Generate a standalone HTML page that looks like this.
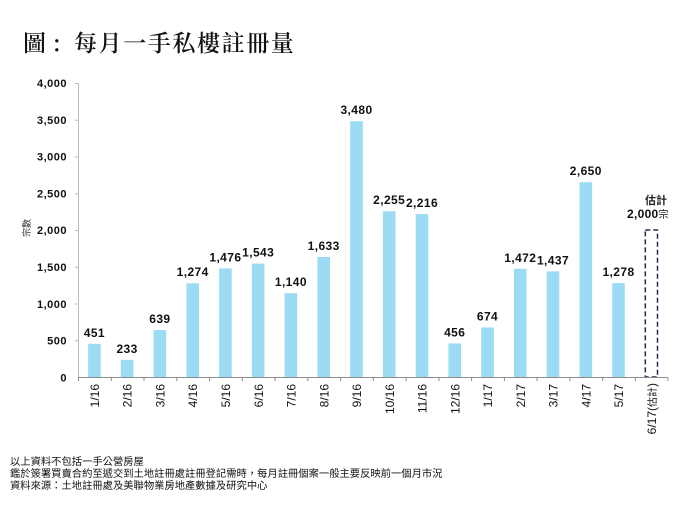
<!DOCTYPE html>
<html><head><meta charset="utf-8"><style>
html,body{margin:0;padding:0;background:#fff;}
body{width:700px;height:525px;overflow:hidden;position:relative;}
svg{position:absolute;left:0;top:0;}
</style></head><body>
<svg width="700" height="525" viewBox="0 0 700 525" xmlns="http://www.w3.org/2000/svg">
<g font-family="'Noto Serif CJK SC','Noto Serif CJK TC',serif" font-size="23" font-weight="600" fill="#111">
<text x="23" y="51">圖</text>
<text x="53" y="51">:</text>
<text x="74" y="51" letter-spacing="1.6">每月一手私樓註冊量</text>
</g>

<!-- y axis -->
<line x1="78.5" y1="83" x2="78.5" y2="377.5" stroke="#bdbdbd" stroke-width="1"/>
<g stroke="#bdbdbd" stroke-width="1">
<line x1="75" y1="83.5" x2="78.5" y2="83.5"/>
<line x1="75" y1="120.25" x2="78.5" y2="120.25"/>
<line x1="75" y1="157" x2="78.5" y2="157"/>
<line x1="75" y1="193.75" x2="78.5" y2="193.75"/>
<line x1="75" y1="230.5" x2="78.5" y2="230.5"/>
<line x1="75" y1="267.25" x2="78.5" y2="267.25"/>
<line x1="75" y1="304" x2="78.5" y2="304"/>
<line x1="75" y1="340.75" x2="78.5" y2="340.75"/>
</g>
<g font-family="'Liberation Sans',sans-serif" font-size="11" font-weight="700" fill="#111" text-anchor="end" letter-spacing="0.5">
<text x="67" y="87">4,000</text>
<text x="67" y="124">3,500</text>
<text x="67" y="160.5">3,000</text>
<text x="67" y="197.5">2,500</text>
<text x="67" y="234">2,000</text>
<text x="67" y="271">1,500</text>
<text x="67" y="308">1,000</text>
<text x="67" y="344.5">500</text>
<text x="67" y="381.5">0</text>
</g>
<text transform="translate(30,228) rotate(-90)" text-anchor="middle" font-family="'Liberation Sans','Noto Sans CJK TC',sans-serif" font-size="9" fill="#333">宗數</text>

<!-- bars -->
<g fill="#9bdbf4">
<rect x="88.1" y="343.85" width="12.6" height="33.15"/>
<rect x="120.8" y="359.87" width="12.6" height="17.13"/>
<rect x="153.6" y="330.03" width="12.6" height="46.97"/>
<rect x="186.4" y="283.36" width="12.6" height="93.64"/>
<rect x="219.1" y="268.51" width="12.6" height="108.49"/>
<rect x="251.9" y="263.59" width="12.6" height="113.41"/>
<rect x="284.6" y="293.21" width="12.6" height="83.79"/>
<rect x="317.4" y="256.97" width="12.6" height="120.03"/>
<rect x="350.2" y="121.22" width="12.6" height="255.78"/>
<rect x="382.9" y="211.26" width="12.6" height="165.74"/>
<rect x="415.7" y="214.12" width="12.6" height="162.88"/>
<rect x="448.4" y="343.48" width="12.6" height="33.52"/>
<rect x="481.2" y="327.46" width="12.6" height="49.54"/>
<rect x="514.0" y="268.81" width="12.6" height="108.19"/>
<rect x="546.7" y="271.38" width="12.6" height="105.62"/>
<rect x="579.5" y="182.22" width="12.6" height="194.78"/>
<rect x="612.2" y="283.07" width="12.6" height="93.93"/>
</g>
<rect x="645.3" y="230" width="12.2" height="147" fill="none" stroke="#1f2d50" stroke-width="1.5" stroke-dasharray="5,3"/>

<!-- x axis -->
<line x1="78" y1="377.5" x2="668" y2="377.5" stroke="#8c8c8c" stroke-width="1"/>
<g stroke="#8c8c8c" stroke-width="1">
<line x1="78.5" y1="377.5" x2="78.5" y2="381"/>
<line x1="111.3" y1="377.5" x2="111.3" y2="381"/>
<line x1="144" y1="377.5" x2="144" y2="381"/>
<line x1="176.8" y1="377.5" x2="176.8" y2="381"/>
<line x1="209.5" y1="377.5" x2="209.5" y2="381"/>
<line x1="242.3" y1="377.5" x2="242.3" y2="381"/>
<line x1="275.1" y1="377.5" x2="275.1" y2="381"/>
<line x1="307.8" y1="377.5" x2="307.8" y2="381"/>
<line x1="340.6" y1="377.5" x2="340.6" y2="381"/>
<line x1="373.3" y1="377.5" x2="373.3" y2="381"/>
<line x1="406.1" y1="377.5" x2="406.1" y2="381"/>
<line x1="438.9" y1="377.5" x2="438.9" y2="381"/>
<line x1="471.6" y1="377.5" x2="471.6" y2="381"/>
<line x1="504.4" y1="377.5" x2="504.4" y2="381"/>
<line x1="537.1" y1="377.5" x2="537.1" y2="381"/>
<line x1="569.9" y1="377.5" x2="569.9" y2="381"/>
<line x1="602.7" y1="377.5" x2="602.7" y2="381"/>
<line x1="635.4" y1="377.5" x2="635.4" y2="381"/>
<line x1="668" y1="377.5" x2="668" y2="381"/>
</g>

<!-- value labels -->
<g font-family="'Liberation Sans',sans-serif" font-size="12" font-weight="700" fill="#111" text-anchor="middle" letter-spacing="0.4">
<text x="94.4" y="337">451</text>
<text x="127.1" y="353">233</text>
<text x="159.9" y="323">639</text>
<text x="192.7" y="276">1,274</text>
<text x="225.4" y="261.5">1,476</text>
<text x="258.2" y="256.5">1,543</text>
<text x="290.9" y="286">1,140</text>
<text x="323.7" y="250">1,633</text>
<text x="356.5" y="114">3,480</text>
<text x="389.2" y="204">2,255</text>
<text x="422" y="207">2,216</text>
<text x="454.7" y="336.5">456</text>
<text x="487.5" y="320.5">674</text>
<text x="520.3" y="262">1,472</text>
<text x="553" y="264.5">1,437</text>
<text x="585.8" y="175">2,650</text>
<text x="618.5" y="276">1,278</text>
</g>
<text x="656" y="204" text-anchor="middle" font-family="'Liberation Sans','Noto Sans CJK TC',sans-serif" font-size="11" font-weight="600" fill="#222">估計</text>
<text x="627" y="218" font-family="'Liberation Sans','Noto Sans CJK TC',sans-serif" font-size="12" font-weight="700" fill="#111" letter-spacing="0.3">2,000<tspan font-size="10" font-weight="400">宗</tspan></text>

<!-- x labels -->
<g font-family="'Liberation Sans','Noto Sans CJK TC',sans-serif" font-size="12" fill="#111" text-anchor="end">
<text transform="translate(99,384) rotate(-90)">1/16</text>
<text transform="translate(131.7,384) rotate(-90)">2/16</text>
<text transform="translate(164.5,384) rotate(-90)">3/16</text>
<text transform="translate(197.2,384) rotate(-90)">4/16</text>
<text transform="translate(230,384) rotate(-90)">5/16</text>
<text transform="translate(262.8,384) rotate(-90)">6/16</text>
<text transform="translate(295.5,384) rotate(-90)">7/16</text>
<text transform="translate(328.3,384) rotate(-90)">8/16</text>
<text transform="translate(361,384) rotate(-90)">9/16</text>
<text transform="translate(393.8,384) rotate(-90)">10/16</text>
<text transform="translate(426.6,384) rotate(-90)">11/16</text>
<text transform="translate(459.3,384) rotate(-90)">12/16</text>
<text transform="translate(492.1,384) rotate(-90)">1/17</text>
<text transform="translate(524.8,384) rotate(-90)">2/17</text>
<text transform="translate(557.6,384) rotate(-90)">3/17</text>
<text transform="translate(590.4,384) rotate(-90)">4/17</text>
<text transform="translate(623.1,384) rotate(-90)">5/17</text>
<text transform="translate(655.9,383) rotate(-90)">6/17(<tspan font-size="10">估計</tspan>)</text>
</g>

<!-- footnotes -->
<g font-family="'Liberation Sans','Noto Sans CJK TC',sans-serif" font-size="10.3" fill="#111">
<text x="10" y="465">以上資料不包括一手公營房屋</text>
<text x="10" y="477">鑑於簽署買賣合約至遞交到土地註冊處註冊登記需時，每月註冊個案一般主要反映前一個月市況</text>
<text x="10" y="489">資料來源：土地註冊處及美聯物業房地產數據及研究中心</text>
</g>
</svg>
</body></html>
